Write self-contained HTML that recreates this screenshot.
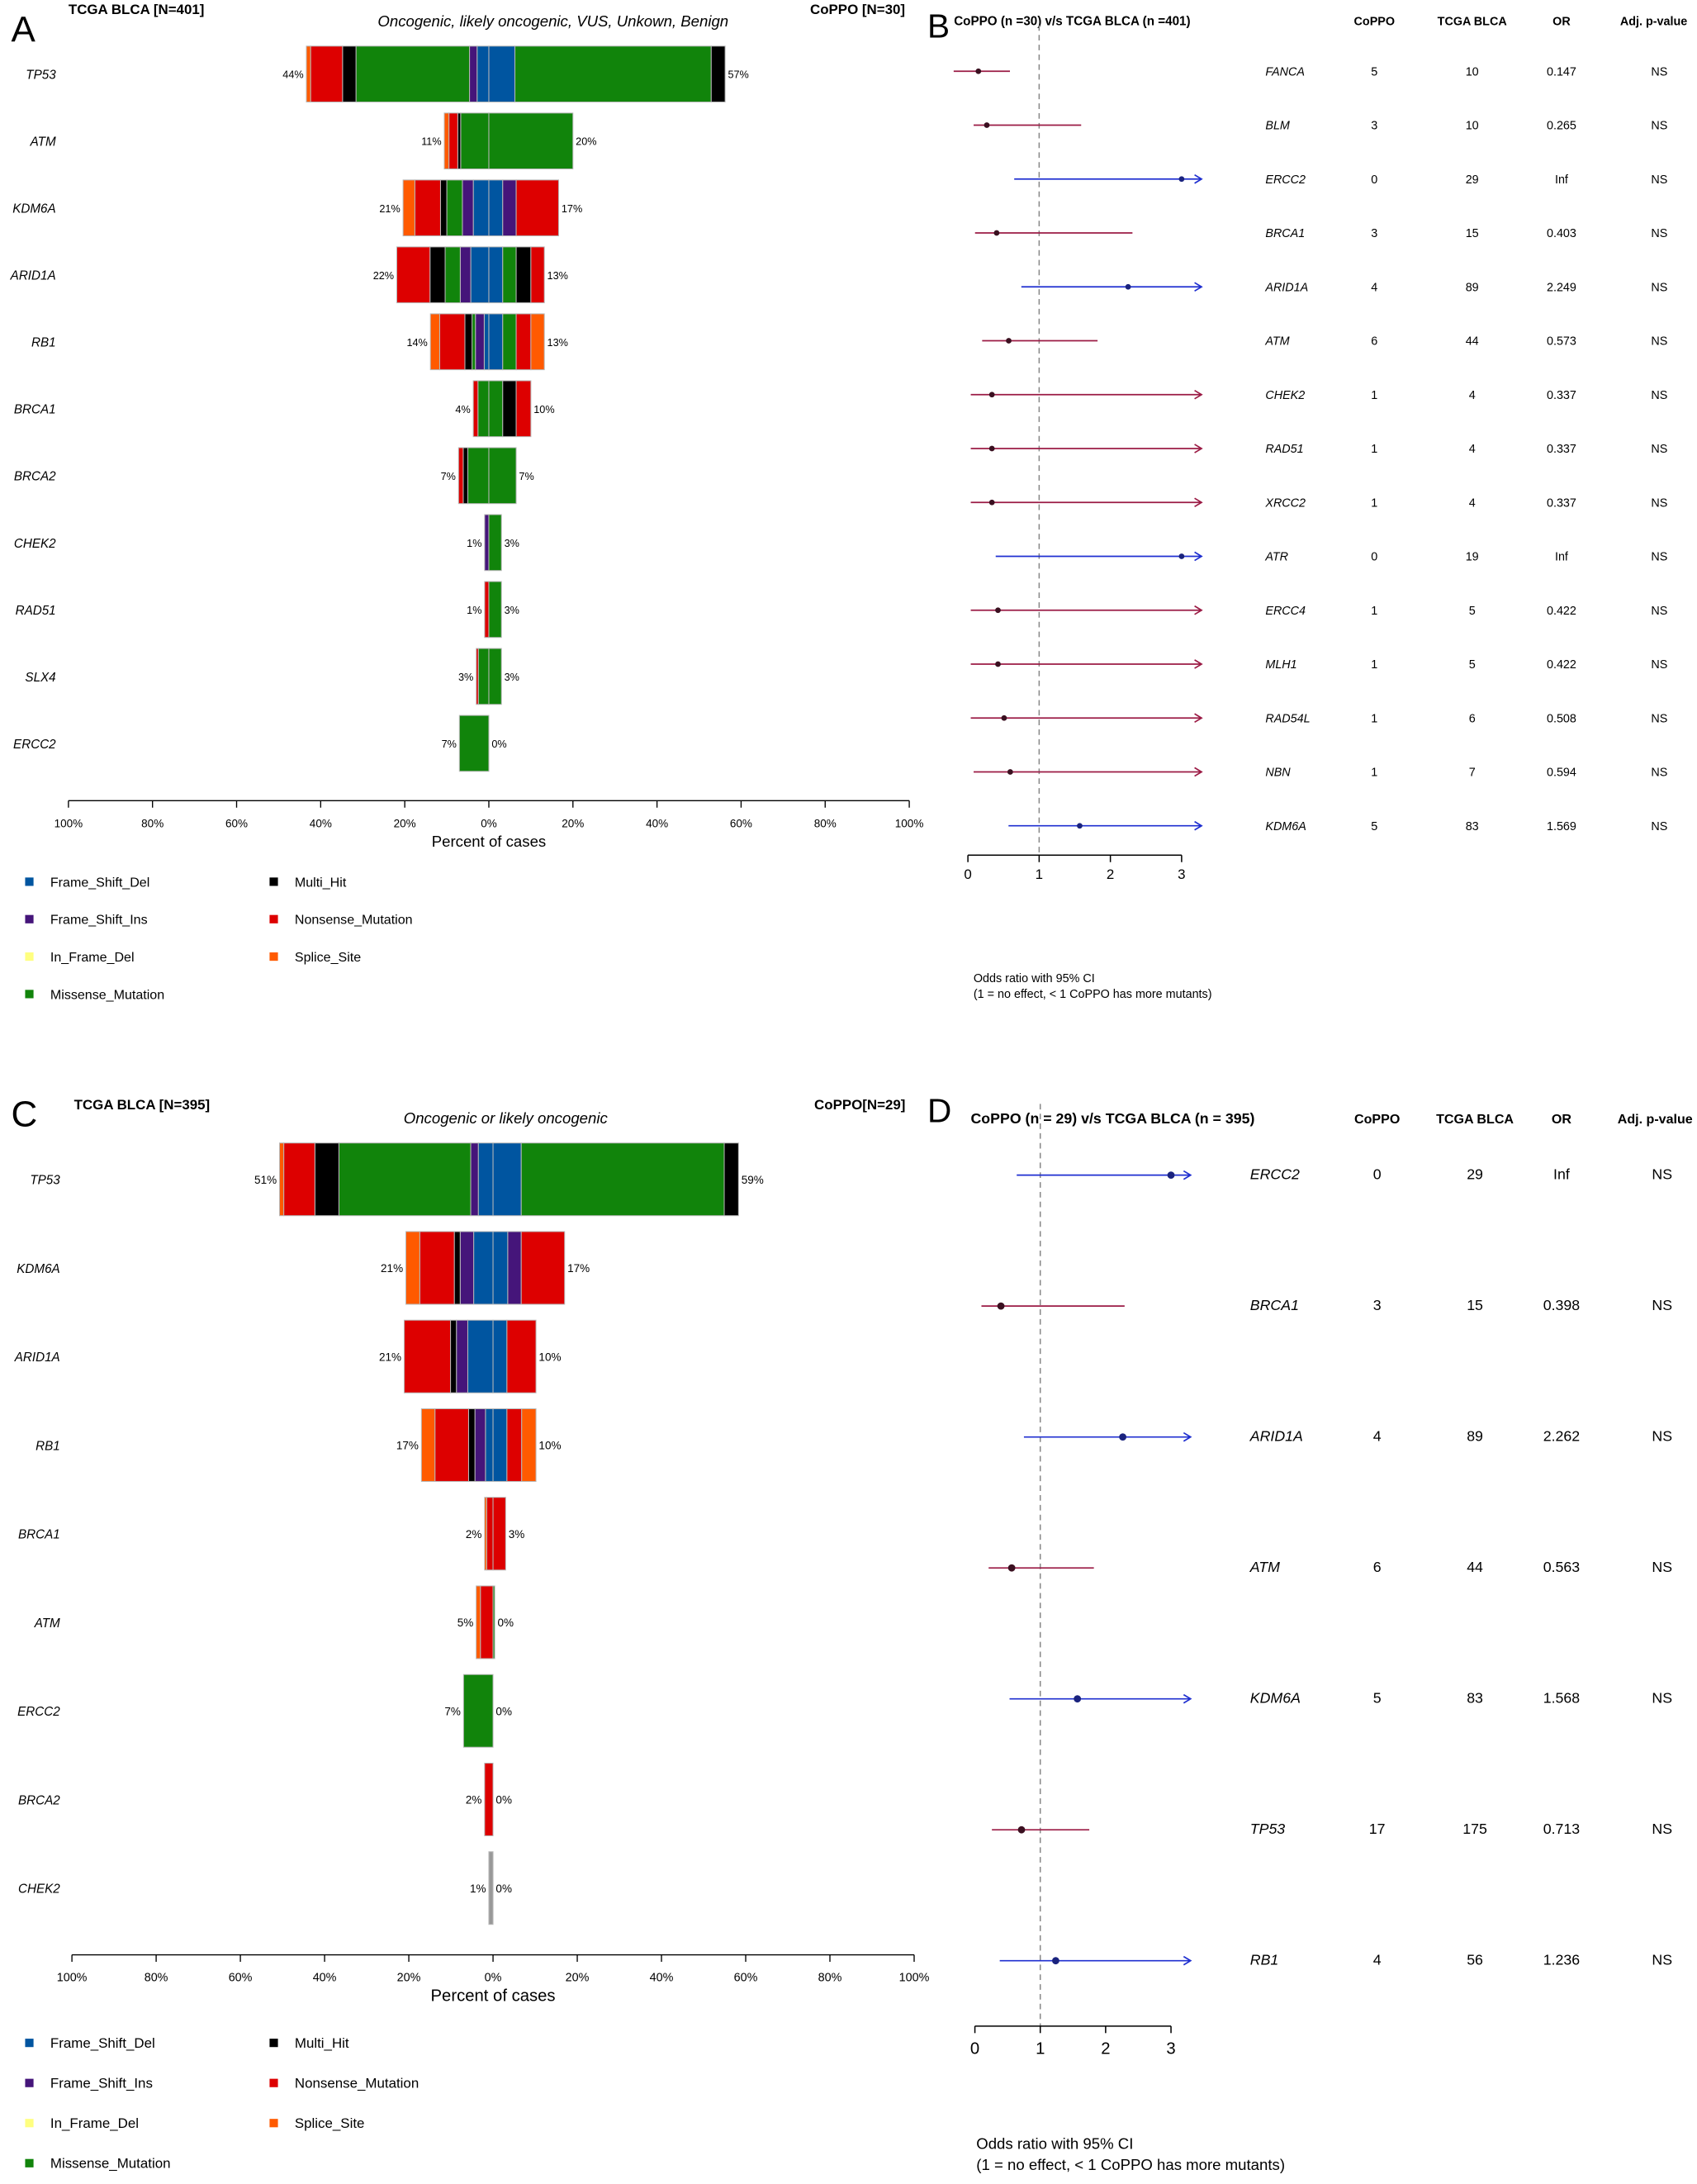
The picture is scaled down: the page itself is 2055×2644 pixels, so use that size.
<!DOCTYPE html>
<html><head><meta charset="utf-8">
<style>
html,body{margin:0;padding:0;background:#fff;}
svg{display:block;font-family:"Liberation Sans",sans-serif;}
</style></head>
<body>
<svg id="fig" width="2055" height="2644" viewBox="0 0 1215 1563" preserveAspectRatio="none" xmlns="http://www.w3.org/2000/svg">
<rect width="1215" height="1563" fill="#fff"/>
<text x="8" y="30" font-size="26">A</text>
<text x="49" y="10" font-size="10" font-weight="bold">TCGA BLCA [N=401]</text>
<text x="580" y="10" font-size="10" font-weight="bold">CoPPO [N=30]</text>
<text x="396" y="19" font-size="11" font-style="italic" text-anchor="middle">Oncogenic, likely oncogenic, VUS, Unkown, Benign</text>
<text x="8" y="806" font-size="26">C</text>
<text x="53" y="794" font-size="10" font-weight="bold">TCGA BLCA [N=395]</text>
<text x="583" y="794" font-size="10" font-weight="bold">CoPPO[N=29]</text>
<text x="362" y="804" font-size="11" font-style="italic" text-anchor="middle">Oncogenic or likely oncogenic</text>
<text x="664" y="27" font-size="24">B</text>
<text x="683" y="18" font-size="9" font-weight="bold">CoPPO (n =30) v/s TCGA BLCA (n =401)</text>
<text x="664" y="803" font-size="24">D</text>
<text x="695" y="804" font-size="10.5" font-weight="bold">CoPPO (n = 29) v/s TCGA BLCA (n = 395)</text>
<text x="697" y="703" font-size="8.5">Odds ratio with 95% CI</text>
<text x="697" y="714" font-size="8.5">(1 = no effect, &lt; 1 CoPPO has more mutants)</text>
<text x="699" y="1538" font-size="11">Odds ratio with 95% CI</text>
<text x="699" y="1553" font-size="11">(1 = no effect, &lt; 1 CoPPO has more mutants)</text>
<g id="layer"></g>
</svg>
<script>
const NS="http://www.w3.org/2000/svg";
const layer=document.getElementById('layer');
function mk(tag,attrs,parent){const e=document.createElementNS(NS,tag);for(const k in attrs)e.setAttribute(k,attrs[k]);(parent||layer).appendChild(e);return e;}
function txt(x,y,s,size,extra){const e=mk('text',Object.assign({x:x,y:y,'font-size':size},extra||{}));e.textContent=s;return e;}
const COL={del:'#0055a0',ins:'#45157a',inf:'#ffff80',mis:'#11840b',multi:'#000000',non:'#dd0000',spl:'#ff5a00',gray:'#999999'};

const genesA=['TP53','ATM','KDM6A','ARID1A','RB1','BRCA1','BRCA2','CHEK2','RAD51','SLX4','ERCC2'];
const leftPctA=['44%','11%','21%','22%','14%','4%','7%','1%','1%','3%','7%'];
const rightPctA=['57%','20%','17%','13%','13%','10%','7%','3%','3%','3%','0%'];
const leftSegA=[
 [['del',2.8],['ins',1.8],['mis',27],['multi',3.2],['non',7.6],['spl',1]],
 [['mis',6.7],['multi',0.7],['non',2.1],['spl',1.1]],
 [['del',3.7],['ins',2.6],['mis',3.7],['multi',1.5],['non',6.1],['spl',2.8]],
 [['del',4.3],['ins',2.5],['mis',3.6],['multi',3.6],['non',7.9]],
 [['del',1.1],['ins',2.1],['mis',0.8],['multi',1.7],['non',6],['spl',2.2]],
 [['mis',2.6],['non',1.1]],
 [['mis',5],['multi',1.1],['non',1.1]],
 [['ins',1]],
 [['non',1]],
 [['mis',2.5],['non',0.5]],
 [['mis',7]]
];
const rightSegA=[
 [['del',6.2],['mis',46.7],['multi',3.3]],
 [['mis',20]],
 [['del',3.3],['ins',3.2],['non',10.1]],
 [['del',3.3],['mis',3.2],['multi',3.5],['non',3.2]],
 [['del',3.3],['mis',3.2],['non',3.5],['spl',3.2]],
 [['mis',3.3],['multi',3.2],['non',3.5]],
 [['mis',6.5]],
 [['mis',3]],
 [['mis',3]],
 [['mis',3]],
 []
];
const genesC=['TP53','KDM6A','ARID1A','RB1','BRCA1','ATM','ERCC2','BRCA2','CHEK2'];
const leftPctC=['51%','21%','21%','17%','2%','5%','7%','2%','1%'];
const rightPctC=['59%','17%','10%','10%','3%','0%','0%','0%','0%'];
const leftSegC=[
 [['del',3.5],['ins',1.8],['mis',31.3],['multi',5.7],['non',7.4],['spl',1]],
 [['del',4.6],['ins',3.2],['multi',1.4],['non',8.2],['spl',3.3]],
 [['del',6],['ins',2.7],['multi',1.4],['non',11]],
 [['del',1.8],['ins',2.5],['multi',1.5],['non',8],['spl',3.2]],
 [['non',1.5],['spl',0.5]],
 [['non',3],['spl',1]],
 [['mis',7]],
 [['non',2]],
 [['gray',1]]
];
const rightSegC=[
 [['del',6.7],['mis',48.2],['multi',3.4]],
 [['del',3.5],['ins',3.2],['non',10.3]],
 [['del',3.3],['non',6.9]],
 [['del',3.3],['non',3.5],['spl',3.4]],
 [['non',3]],
 [['mis',0.4]],
 [],
 [],
 []
];

function funnel(name,genes,lp,rp,ls,rs,cfg){
  const g=mk('g',{});
  
  
  const sx=p=>p*cfg.ppp;
  genes.forEach((gene,i)=>{
    const yc=cfg.y0+i*cfg.dy, h=cfg.bh, y=yc-h/2;
    const gl=txt(cfg.labelX,yc+3.5,gene,cfg.gfs,{'font-style':'italic','text-anchor':'end'});
    
    
    let x=cfg.cx;
    ls[i].forEach(s=>{const w=sx(s[1]);x-=w;
      const r=mk('rect',{x:x,y:y,width:w,height:h,fill:COL[s[0]],stroke:'#b8b8b8','stroke-width':0.6},g);
      
      });
    const lx=x;
    x=cfg.cx;
    rs[i].forEach(s=>{const w=sx(s[1]);
      const r=mk('rect',{x:x,y:y,width:w,height:h,fill:COL[s[0]],stroke:'#b8b8b8','stroke-width':0.6},g);
      
      x+=w;});
    const rx=x;
    const t1=txt(lx-2,yc+3,lp[i],cfg.pfs,{'text-anchor':'end'});
    
    
    const t2=txt(rx+2,yc+3,rp[i],cfg.pfs,{});
    
    
  });
  const ax=mk('line',{x1:cfg.cx-100*cfg.ppp,x2:cfg.cx+100*cfg.ppp,y1:cfg.ay,y2:cfg.ay,stroke:'#000','stroke-width':0.8});
  
  
  [-100,-80,-60,-40,-20,0,20,40,60,80,100].forEach(v=>{
    const xx=cfg.cx+v*cfg.ppp;
    mk('line',{x1:xx,x2:xx,y1:cfg.ay,y2:cfg.ay+5,stroke:'#000','stroke-width':0.8});
    const t=txt(xx,cfg.ay+19,Math.abs(v)+'%',cfg.tfs,{'text-anchor':'middle'});
    
    
  });
  const tt=txt(cfg.cx,cfg.ay+33,'Percent of cases',cfg.afs,{'text-anchor':'middle'});
  
  
}
funnel('panel-a-funnel',genesA,leftPctA,rightPctA,leftSegA,rightSegA,{cx:350,ppp:3.01,y0:53,dy:47.9,bh:40,labelX:40,ay:573,gfs:9,pfs:7.5,tfs:8,afs:11});
funnel('panel-c-funnel',genesC,leftPctC,rightPctC,leftSegC,rightSegC,{cx:353,ppp:3.015,y0:844,dy:63.4,bh:52,labelX:43,ay:1399,gfs:9,pfs:8,tfs:8.5,afs:12});

const legNames=[['Frame_Shift_Del','del'],['Frame_Shift_Ins','ins'],['In_Frame_Del','inf'],['Missense_Mutation','mis'],['Multi_Hit','multi'],['Nonsense_Mutation','non'],['Splice_Site','spl']];
function legend(y0,dy,fs){
  legNames.forEach((l,i)=>{
    const col=i<4?0:1, row=i<4?i:i-4;
    const x=col?193:18, y=y0+row*dy;
    const r=mk('rect',{x:x,y:y-3,width:6,height:6,fill:COL[l[1]]});
    
    
    const t=txt(x+18,y+3.5,l[0],fs,{});
    
    
  });
}
legend(631,26.8,9.5);
legend(1462,28.7,10);

const genesB=['FANCA','BLM','ERCC2','BRCA1','ARID1A','ATM','CHEK2','RAD51','XRCC2','ATR','ERCC4','MLH1','RAD54L','NBN','KDM6A'];
const coppoB=['5','3','0','3','4','6','1','1','1','0','1','1','1','1','5'];
const tcgaB=['10','10','29','15','89','44','4','4','4','19','5','5','6','7','83'];
const orB=['0.147','0.265','Inf','0.403','2.249','0.573','0.337','0.337','0.337','Inf','0.422','0.422','0.508','0.594','1.569'];
const estB=[0.147,0.265,3.0,0.403,2.249,0.573,0.337,0.337,0.337,3.0,0.422,0.422,0.508,0.594,1.569];
const loB=[-0.2,0.08,0.65,0.1,0.75,0.2,0.04,0.04,0.04,0.39,0.04,0.04,0.04,0.08,0.57];
const hiB=[0.59,1.59,9,2.31,9,1.82,9,9,9,9,9,9,9,9,9];
const genesD=['ERCC2','BRCA1','ARID1A','ATM','KDM6A','TP53','RB1'];
const coppoD=['0','3','4','6','5','17','4'];
const tcgaD=['29','15','89','44','83','175','56'];
const orD=['Inf','0.398','2.262','0.563','1.568','0.713','1.236'];
const estD=[3.0,0.398,2.262,0.563,1.568,0.713,1.236];
const loD=[0.64,0.1,0.75,0.21,0.53,0.26,0.38];
const hiD=[9,2.29,9,1.82,9,1.75,9];

function forest(name,genes,cp,tc,ors,est,lo,hi,c){
  const g=mk('g',{});
  
  
  const X=v=>c.x0+v*c.ppu;
  const xmax=c.xmaxv;
  const dl=mk('line',{x1:X(1),x2:X(1),y1:c.dTop,y2:c.ay,stroke:'#888','stroke-width':0.9,'stroke-dasharray':'4,3'},g);
  
  
  [['CoPPO',c.cC],['TCGA BLCA',c.cT],['OR',c.cO],['Adj. p-value',c.cPh]].forEach(h=>{
    const t=txt(h[1],c.hy,h[0],c.hfs,{'font-weight':'bold','text-anchor':'middle'});
    
    
  });
  genes.forEach((gene,i)=>{
    const y=c.y0+i*c.dy;
    const color=est[i]>1?'#1f2fd0':'#9b1b45';
    const arrow=hi[i]>xmax;
    const x2=X(Math.min(hi[i],xmax));
    const ln=mk('line',{x1:X(lo[i]),x2:x2,y1:y,y2:y,stroke:color,'stroke-width':1},g);
    
    
    if(arrow){const a=mk('polyline',{points:(x2-5)+','+(y-3)+' '+x2+','+y+' '+(x2-5)+','+(y+3),fill:'none',stroke:color,'stroke-width':1},g);
      
      }
    const pt=mk('circle',{cx:X(est[i]),cy:y,r:c.pr,fill:est[i]>1?'#1a237e':'#3a1020'},g);
    
    
    const gt=txt(c.gx,y+3,gene,c.fs,{'font-style':'italic'});
    
    
    [[cp[i],c.cC],[tc[i],c.cT],[ors[i],c.cO],['NS',c.cP]].forEach(v=>{
      const t=txt(v[1],y+3,v[0],c.fs,{'text-anchor':'middle'});
      
      
    });
  });
  const ax=mk('line',{x1:X(0),x2:X(3),y1:c.ay,y2:c.ay,stroke:'#000','stroke-width':0.9},g);
  
  
  [0,1,2,3].forEach(v=>{
    mk('line',{x1:X(v),x2:X(v),y1:c.ay,y2:c.ay+5,stroke:'#000','stroke-width':0.9},g);
    const t=txt(X(v),c.ay+c.tlo,String(v),c.tfs,{'text-anchor':'middle'});
    
    
  });
}
forest('panel-b-forest',genesB,coppoB,tcgaB,orB,estB,loB,hiB,{x0:693,ppu:51,xmaxv:3.28,y0:51,dy:38.57,dTop:18,ay:612,tlo:17,tfs:10,gx:906,cC:984,cT:1054,cO:1118,cP:1188,cPh:1184,hy:18,hfs:8.5,fs:8.5,pr:2});
forest('panel-d-forest',genesD,coppoD,tcgaD,orD,estD,loD,hiD,{x0:698,ppu:46.8,xmaxv:3.3,y0:841,dy:93.7,dTop:790,ay:1450,tlo:20,tfs:12,gx:895,cC:986,cT:1056,cO:1118,cP:1190,cPh:1185,hy:804,hfs:9.5,fs:10.5,pr:2.6});
</script>
</body></html>
